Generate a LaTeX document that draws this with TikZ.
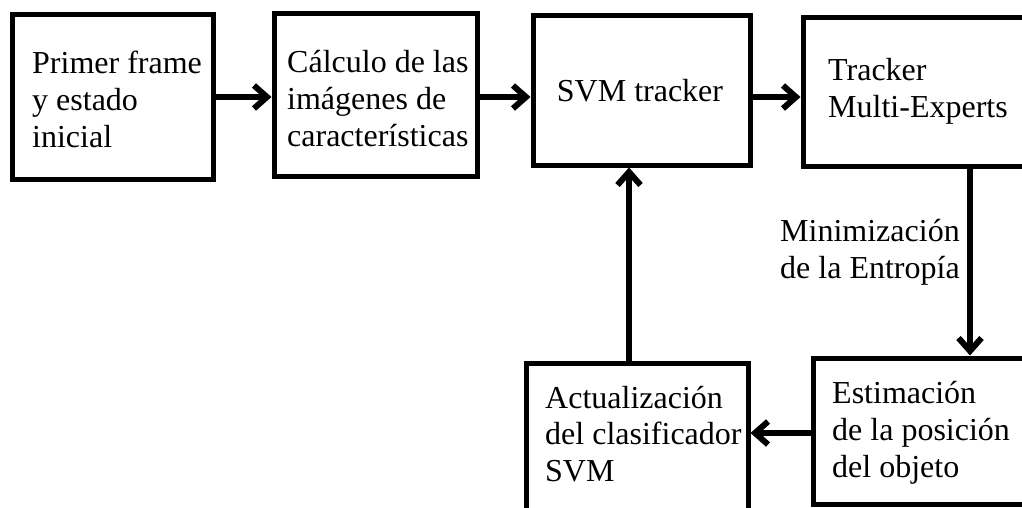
\documentclass[tikz,border=0pt]{standalone}
\usepackage{fontspec}
\setmainfont{Liberation Serif}
\usetikzlibrary{arrows.meta}
\begin{document}
\begin{tikzpicture}[x=1pt,y=-1pt,
  box/.style={draw, line width=5pt, rectangle, inner sep=0pt},
  txt/.style={inner sep=0pt, anchor=west, align=left,
    font=\fontsize{32pt}{36.8pt}\selectfont},
  arr/.style={line width=6pt,
    -{Straight Barb[length=13pt,width=23pt]}}]
\useasboundingbox (0,0) rectangle (1022,508);
\clip (0,0) rectangle (1022,508);

% blocks
\node[box, minimum width=201pt, minimum height=164pt] (b1) at (112.5,97) {};
\node[box, minimum width=203pt, minimum height=162pt] (b2) at (375.5,95) {};
\node[box, minimum width=217pt, minimum height=149pt] (b3) at (641.5,90.5) {};
\node[box, minimum width=247pt, minimum height=148pt] (b4) at (926.5,92) {};
\node[box, minimum width=237pt, minimum height=146pt] (b5) at (931.5,431) {};
\node[box, minimum width=222pt, minimum height=167pt] (b6) at (637,446.5) {};

% block texts
\node[txt] (t1) at (32,99.5) {Primer frame\\y estado\\inicial};
\node[txt] (t2) at (287,98.5) {Cálculo de las\\imágenes de\\características};
\node[txt, anchor=center] (t3) at (640,91) {SVM tracker};
\node[txt] (t4) at (828,91.5) {Tracker\\Multi-Experts};
\node[txt] (t5) at (832,432.5) {Estimación\\de la posición\\del objeto};
\node[txt] (t6) at (545,434) {Actualización\\del clasificador\\SVM};
\node[txt] (lbl) at (780,252.5) {Minimización\\de la Entropía};

% routing lines for the connectors
\coordinate (rowtop) at (0,97);
\coordinate (rowbot) at (0,433);
\coordinate (coldown) at (970,0);
\coordinate (colup) at (629,0);

% connectors
\draw[arr] (b1.east |- rowtop) -- (b2.west |- rowtop);
\draw[arr] (b2.east |- rowtop) -- (b3.west |- rowtop);
\draw[arr] (b3.east |- rowtop) -- (b4.west |- rowtop);
\draw[arr] (b4.south -| coldown) -- (b5.north -| coldown);
\draw[arr] (b5.west |- rowbot) -- (b6.east |- rowbot);
\draw[arr] (b6.north -| colup) -- (b3.south -| colup);
\end{tikzpicture}
\end{document}
